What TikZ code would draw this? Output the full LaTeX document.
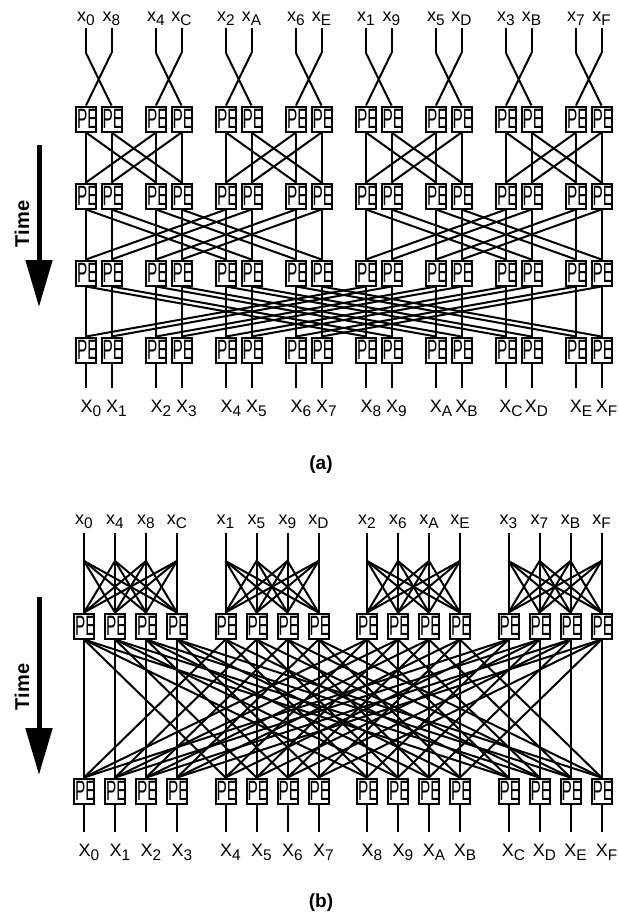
\documentclass[tikz,border=0pt]{standalone}
\usepackage{fontspec}
\setmainfont{Liberation Sans}
\usepackage{graphicx}
\usetikzlibrary{arrows.meta}
\newcommand\sbs[1]{\raisebox{-2pt}{\fontsize{7.7}{8}\selectfont #1}}
\newcommand\hexdig[1]{\ifcase#1 0\or 1\or 2\or 3\or 4\or 5\or 6\or 7\or 8\or 9\or A\or B\or C\or D\or E\or F\fi}
\newcommand\petext{\makebox[0pt]{\hspace{1.4pt}\raisebox{-0.9pt}{\scalebox{0.55}[1]{\fontsize{14}{14}\selectfont PE}}}}

\begin{document}
\begin{tikzpicture}[x=0.5pt,y=-0.5pt]
\tikzset{
  wire/.style={line width=1pt},
  pe/.style={draw,line width=1pt,minimum width=10pt,minimum height=12.5pt,inner sep=0pt},
  lbl/.style={anchor=base,inner sep=0pt,font=\fontsize{9}{10}\selectfont},
  timearrow/.style={line width=2.5pt,-{Triangle[length=23.5pt,width=13pt]}},
  timelbl/.style={rotate=90,font=\fontsize{10}{11}\selectfont\bfseries},
  caption/.style={font=\fontsize{9.5}{11}\selectfont\bfseries}
}
\useasboundingbox (0,0) rectangle (618,916);

% (a) radix-2, four stages
\foreach \col/\lab in {0/0,1/8,2/4,3/C,4/2,5/A,6/6,7/E,8/1,9/9,10/5,11/D,12/3,13/B,14/7,15/F} {
  \pgfmathsetmacro{\xc}{86+70*floor(\col/2)+25.5*mod(\col,2)}
  \node (ain\col) at (\xc,21) [lbl] {x\sbs{\lab}};
  \coordinate (atop\col) at (\xc,28);
  \coordinate (ax\col) at (\xc,53);
  \foreach \s/\y in {1/119,2/196,3/273,4/350}
    \node (a\s-\col) at (\xc,\y) [pe] {\petext};
  \coordinate (abot\col) at (\xc,388);
  \node (aout\col) at (\xc+5,412) [lbl] {X\sbs{\hexdig{\col}}};
}
\foreach \col in {0,...,15} {
  \pgfmathtruncatemacro{\mate}{\col+1-2*mod(\col,2)}
  \path[wire] (atop\col) edge (ax\col) (ax\col) edge (a1-\mate.north)
    (a4-\col.south) edge (abot\col);
}
\foreach \sa/\sb/\k in {1/2/2,2/3/4,3/4/8}
  \foreach \col in {0,...,15} {
    \pgfmathtruncatemacro{\mate}{\col+\k*(1-2*mod(floor(\col/\k),2))}
    \path[wire] (a\sa-\col.south) edge (a\sb-\col.north)
      (a\sa-\col.south) edge (a\sb-\mate.north);
  }
\coordinate (ta0) at (39,145);
\coordinate (ta1) at (39,307);
\draw[timearrow] (ta0) -- (ta1);
\node (timea) at (22,224) [timelbl] {Time};
\node (capa) at (321,465) [caption] {(a)};

% (b) radix-4, two stages
\foreach \g in {0,...,3}
  \foreach \p in {0,...,3} {
    \pgfmathsetmacro{\xc}{84+141.5*\g+31*\p}
    \pgfmathtruncatemacro{\col}{4*\g+\p}
    \pgfmathtruncatemacro{\lab}{\g+4*\p}
    \node (bin\col) at (\xc,524) [lbl] {x\sbs{\hexdig{\lab}}};
    \coordinate (btop\col) at (\xc,533);
    \coordinate (bx\col) at (\xc,561);
    \node (b1-\col) at (\xc,626) [pe] {\petext};
    \node (b2-\col) at (\xc,791) [pe] {\petext};
    \coordinate (bbot\col) at (\xc,832);
    \node (bout\col) at (\xc+5,856) [lbl] {X\sbs{\hexdig{\col}}};
  }
\foreach \g in {0,...,3}
  \foreach \p in {0,...,3} {
    \pgfmathtruncatemacro{\col}{4*\g+\p}
    \path[wire] (btop\col) edge (bx\col) (b2-\col.south) edge (bbot\col);
    \foreach \q in {0,...,3} {
      \pgfmathtruncatemacro{\mate}{4*\g+\q}
      \pgfmathtruncatemacro{\twin}{4*\q+\p}
      \path[wire] (bx\col) edge (b1-\mate.north)
        (b1-\col.south) edge (b2-\twin.north);
    }
  }
\coordinate (tb0) at (39,597);
\coordinate (tb1) at (39,775);
\draw[timearrow] (tb0) -- (tb1);
\node (timeb) at (22,687) [timelbl] {Time};
\node (capb) at (321,903) [caption] {(b)};
\end{tikzpicture}
\end{document}
